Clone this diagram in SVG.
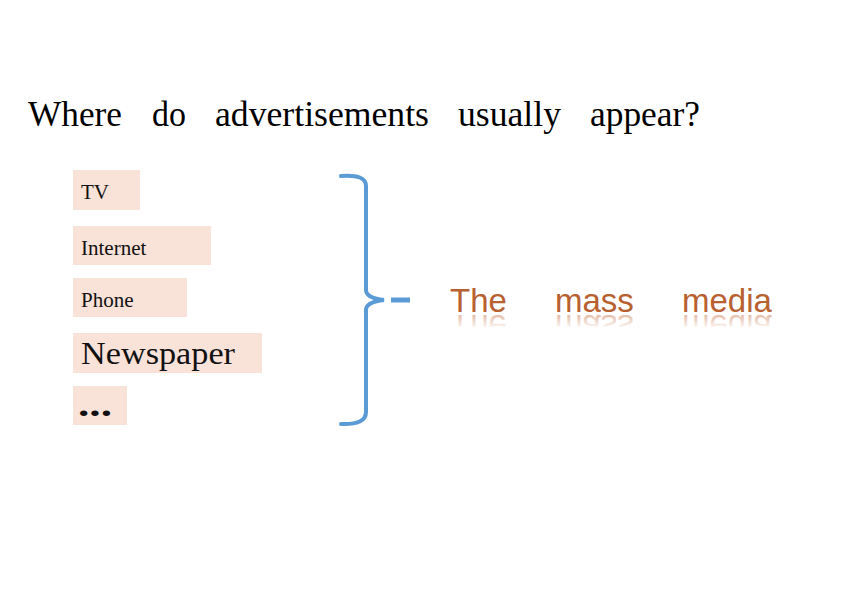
<svg xmlns="http://www.w3.org/2000/svg" width="860" height="608" viewBox="0 0 860 608">
<style>
.q{font-family:"Liberation Serif","Times New Roman",serif;font-size:36px;fill:#000}
.bx{fill:#F9E2D8}
.t{font-family:"Liberation Serif","Times New Roman",serif;fill:#111}
.mm{font-family:"Liberation Sans",Arial,sans-serif;font-size:33px;fill:#B8602F}
.rf{font-family:"Liberation Sans",Arial,sans-serif;font-size:33px;fill:url(#fade)}
</style>
<defs>
<linearGradient id="fade" x1="0" y1="0" x2="0" y2="1">
<stop offset="0" stop-color="#C97A50" stop-opacity="0"/>
<stop offset="0.5" stop-color="#C97A50" stop-opacity="0.1"/>
<stop offset="1" stop-color="#C97A50" stop-opacity="0.75"/>
</linearGradient>
<clipPath id="rc"><rect x="440" y="314" width="350" height="13"/></clipPath>
</defs>
<rect width="860" height="608" fill="#fff"/>
<g id="title">
<text class="q" x="28" y="126" textLength="94" lengthAdjust="spacingAndGlyphs">Where</text>
<text class="q" x="152" y="126" textLength="34" lengthAdjust="spacingAndGlyphs">do</text>
<text class="q" x="215" y="126" textLength="214" lengthAdjust="spacingAndGlyphs">advertisements</text>
<text class="q" x="458" y="126" textLength="103" lengthAdjust="spacingAndGlyphs">usually</text>
<text class="q" x="590" y="126" textLength="110" lengthAdjust="spacingAndGlyphs">appear?</text>
</g>
<g id="n-tv"><rect class="bx" x="73" y="170" width="67" height="40"/><text class="t" x="81" y="199" font-size="21">TV</text></g>
<g id="n-internet"><rect class="bx" x="73" y="226" width="138" height="39"/><text class="t" x="81" y="255" font-size="21">Internet</text></g>
<g id="n-phone"><rect class="bx" x="73" y="278" width="114" height="39"/><text class="t" x="81" y="307" font-size="21">Phone</text></g>
<g id="n-newspaper"><rect class="bx" x="73" y="333" width="189" height="40"/><text class="t" x="81" y="364" font-size="31" textLength="154" lengthAdjust="spacingAndGlyphs">Newspaper</text></g>
<g id="n-more"><rect class="bx" x="73" y="386" width="54" height="39"/><text class="t" x="78" y="416" font-size="34" font-weight="bold" textLength="34" lengthAdjust="spacingAndGlyphs">...</text></g>
<g id="connectors" fill="none" stroke="#5B9BD5" stroke-width="4" stroke-linecap="round">
<path d="M341,176 Q366,174 366,186 L366,290 Q366,298 384,300 Q366,302 366,310 L366,412 Q366,425 341,424"/>
<line x1="391" y1="300" x2="410" y2="300" stroke-linecap="butt" stroke-width="5"/>
</g>
<g id="n-massmedia">
<text class="mm" x="450" y="312">The</text>
<text class="mm" x="555" y="312">mass</text>
<text class="mm" x="682" y="312">media</text>
<g clip-path="url(#rc)">
<g transform="translate(0,627) scale(1,-1)">
<text class="rf" x="450" y="312">The</text>
<text class="rf" x="555" y="312">mass</text>
<text class="rf" x="682" y="312">media</text>
</g>
</g>
</g>
</svg>
